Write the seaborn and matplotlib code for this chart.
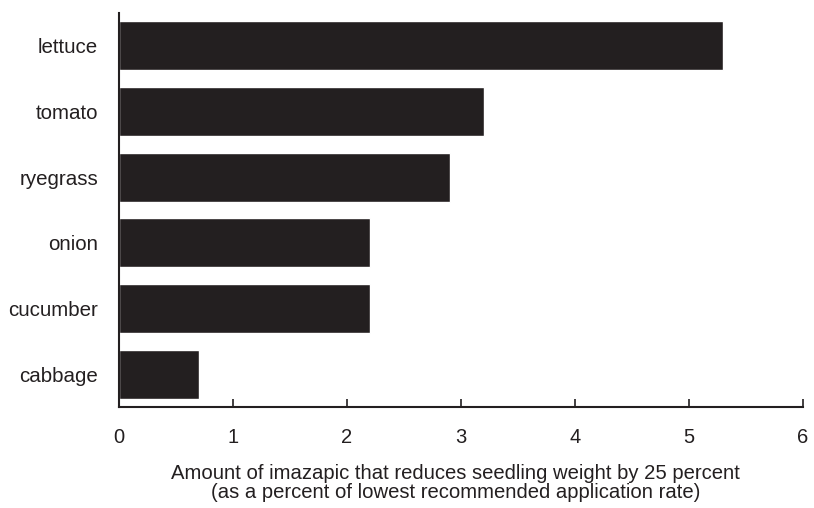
import matplotlib
matplotlib.use("Agg")
import matplotlib.pyplot as plt
import seaborn as sns
import pandas as pd

crops = ["lettuce", "tomato", "ryegrass", "onion", "cucumber", "cabbage"]
values = [5.3, 3.2, 2.9, 2.2, 2.2, 0.7]
xticks = [0, 1, 2, 3, 4, 5, 6]
xlabel = ("Amount of imazapic that reduces seedling weight by 25 percent\n"
          "(as a percent of lowest recommended application rate)")

sns.set_style("white")
plt.rcParams["font.family"] = ["Liberation Sans", "DejaVu Sans"]

df = pd.DataFrame({"crop": crops, "value": values})

fig = plt.figure(figsize=(8.14, 5.08), dpi=100)
ax = fig.add_axes([0.1462, 0.1988, 0.8403, 0.7756])
sns.barplot(data=df, y="crop", x="value", order=crops, color="#231f20",
            saturation=1, width=0.75, ax=ax, orient="h")

ax.set_xlim(0, 6)
ax.set_ylim(5.5, -0.5)
ax.set_xticks(xticks)
ax.set_xticklabels([str(t) for t in xticks])
ax.set_ylabel("")
ax.set_xlabel(xlabel, fontsize=14.6, linespacing=1.0, color="#231f20")
ax.xaxis.set_label_coords(0.492, -0.145, transform=ax.transAxes)
ax.xaxis.label.set_verticalalignment("top")

for s in ["top", "right"]:
    ax.spines[s].set_visible(False)
for s in ["left", "bottom"]:
    ax.spines[s].set_visible(True)
    ax.spines[s].set_color("#231f20")
    ax.spines[s].set_linewidth(1.5)

ax.tick_params(axis="x", direction="in", length=6, width=1.2, colors="#231f20",
               labelsize=14.5, pad=15, bottom=True)
ax.tick_params(axis="y", length=0, labelsize=14.8, pad=15, colors="#231f20")

fig.savefig("out.png", dpi=100)
